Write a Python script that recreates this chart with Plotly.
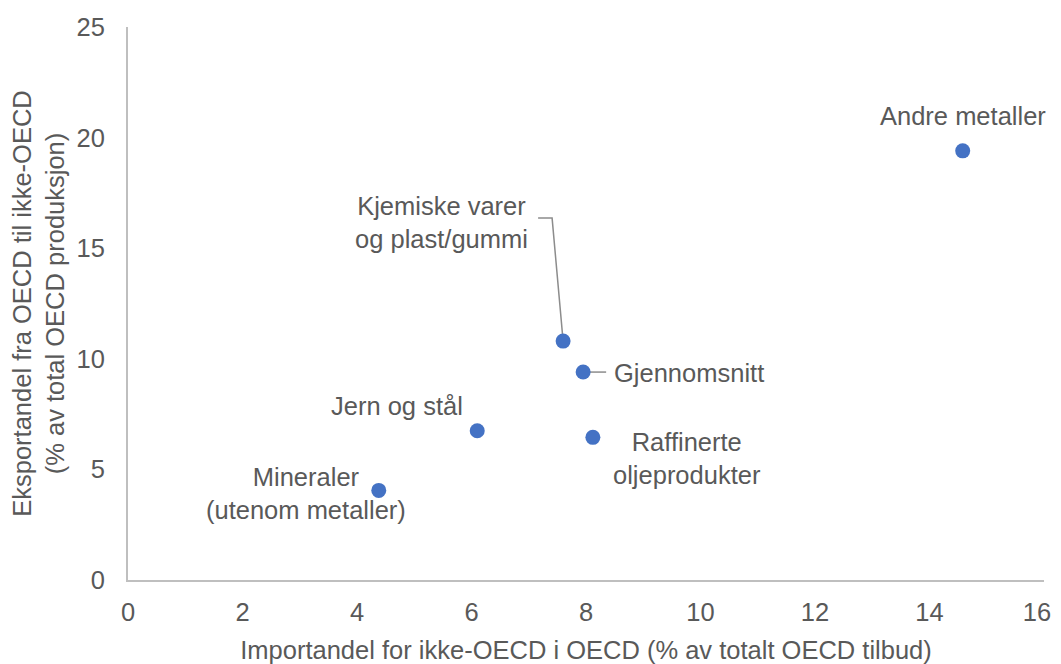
import plotly.graph_objects as go

# Data
categories = ["Andre metaller", "Kjemiske varer<br>og plast/gummi", "Gjennomsnitt",
              "Jern og stål", "Raffinerte<br>oljeprodukter", "Mineraler<br>(utenom metaller)"]
import_share = [14.58, 7.6, 7.95, 6.1, 8.12, 4.38]
export_share = [19.4, 10.8, 9.4, 6.75, 6.45, 4.05]
x_ticks = [0, 2, 4, 6, 8, 10, 12, 14, 16]
x_tick_labels = ["0", "2", "4", "6", "8", "10", "12", "14", "16\u2007"]
y_ticks = [0, 5, 10, 15, 20, 25]

# Label placement (pixel offsets relative to each point)
label_xshift = [0, -122, 29, -80, 94, -73]
label_yshift = [35, 119, -1, 25, -21, -3]
label_xanchor = ["center", "center", "left", "center", "center", "center"]

TEXT = "#595959"
AXIS = "#BFBFBF"
FONT = "Liberation Sans, Arial, sans-serif"
FS = 25.5

fig = go.Figure()
fig.add_trace(go.Scatter(
    x=import_share, y=export_share, mode="markers",
    marker=dict(size=15, color="#4472C4"),
    hoverinfo="x+y", showlegend=False,
))

for i, name in enumerate(categories):
    fig.add_annotation(
        x=import_share[i], y=export_share[i], xref="x", yref="y",
        text=name, showarrow=False, xanchor=label_xanchor[i], yanchor="middle",
        xshift=label_xshift[i], yshift=label_yshift[i],
        font=dict(size=FS, color=TEXT, family=FONT), align="center",
    )

# Leader lines (pixel paths anchored at points)
fig.add_shape(type="path", xref="x", yref="y", xsizemode="pixel", ysizemode="pixel",
              xanchor=import_share[1], yanchor=export_share[1],
              path="M0,0 L-11,123 L-25,123", line=dict(color="#8C8C8C", width=1.5),
              layer="below")
fig.add_shape(type="path", xref="x", yref="y", xsizemode="pixel", ysizemode="pixel",
              xanchor=import_share[2], yanchor=export_share[2],
              path="M0,0 L23,0", line=dict(color="#8C8C8C", width=1.5),
              layer="below")

fig.update_layout(
    width=1053, height=656,
    margin=dict(l=120, r=17, t=19, b=84),
    paper_bgcolor="white", plot_bgcolor="white",
    font=dict(family=FONT, size=FS, color=TEXT),
    xaxis=dict(
        range=[0, 16], tickvals=x_ticks, ticktext=x_tick_labels,
        showgrid=False, zeroline=False,
        showline=True, linecolor=AXIS, linewidth=2, ticks="",
        ticklabelstandoff=8, ticklabeloverflow="allow", automargin=False,
        tickfont=dict(size=FS, color=TEXT),
        title=dict(text="Importandel for ikke-OECD i OECD (% av totalt OECD tilbud)",
                   font=dict(size=FS, color=TEXT), standoff=28),
    ),
    yaxis=dict(
        range=[0, 25], tickvals=y_ticks, showgrid=False, zeroline=False,
        showline=True, linecolor=AXIS, linewidth=2, ticks="",
        ticklabelstandoff=16, ticklabeloverflow="allow", automargin=False,
        tickfont=dict(size=FS, color=TEXT),
        title=dict(text="Eksportandel fra OECD til ikke-OECD<br>(% av total OECD produksjon)",
                   font=dict(size=FS, color=TEXT), standoff=5),
    ),
)

fig.write_html(
    "out.html",
    post_script="document.documentElement.style.overflow='hidden';document.body.style.overflow='hidden';",
)
